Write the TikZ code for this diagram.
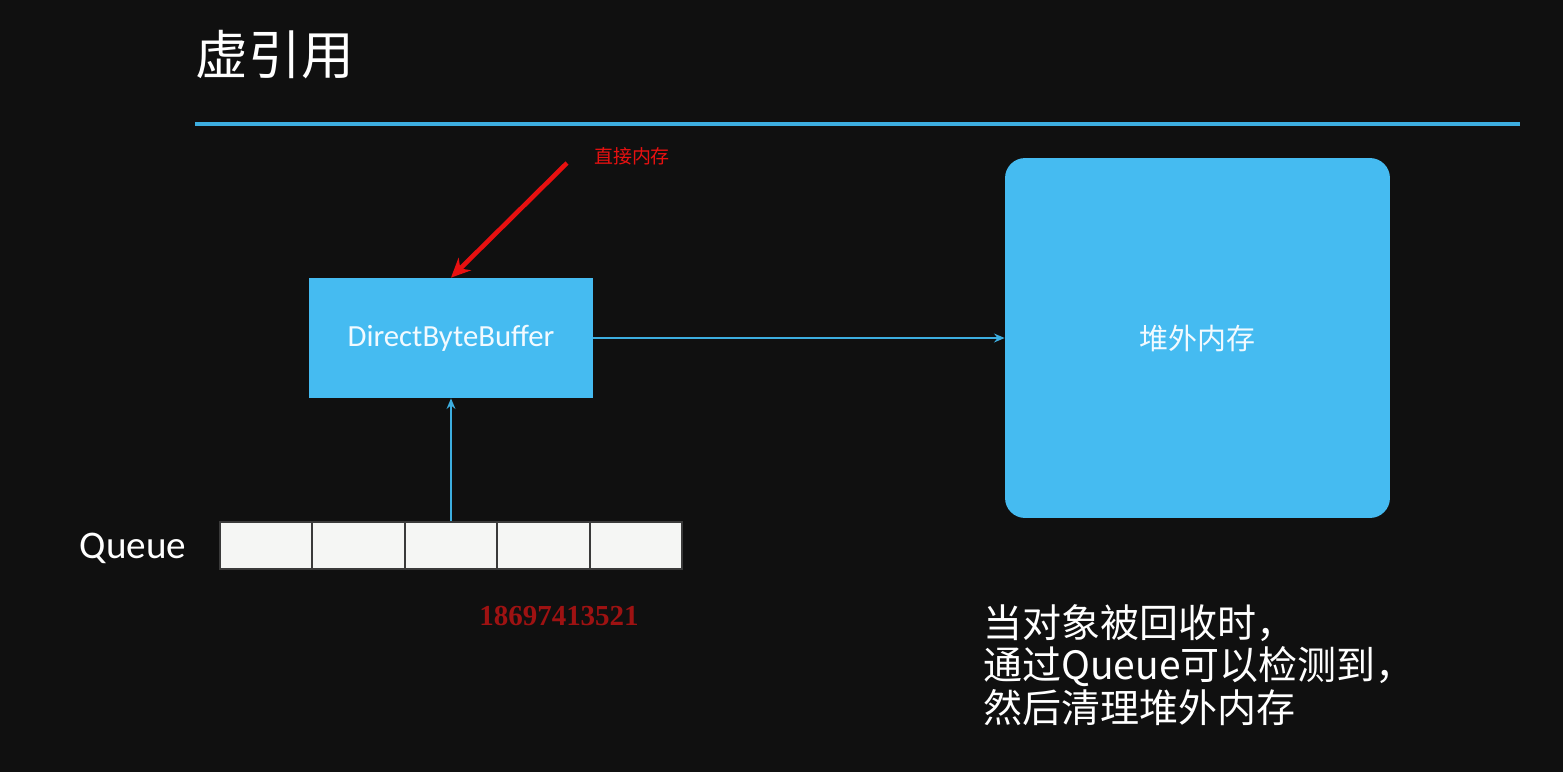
\documentclass[tikz,border=0pt]{standalone}
\usepackage{fontspec}
\usetikzlibrary{arrows.meta}
\newfontfamily\cjk{Noto Sans CJK SC}
\newfontfamily\uifont{Carlito}
\newfontfamily\numfont{Liberation Serif}
\definecolor{board}{HTML}{101010}
\definecolor{boxblue}{HTML}{45BBF1}
\definecolor{lineblue}{HTML}{3DAEE0}
\definecolor{boxtext}{HTML}{F2FAFF}
\definecolor{cellwhite}{HTML}{F5F6F4}
\definecolor{cellline}{HTML}{3A3A3A}
\definecolor{annred}{HTML}{E81010}
\definecolor{markred}{HTML}{9E1212}
\tikzset{
  bluebox/.style={fill=boxblue, text=boxtext, inner sep=0pt},
  qcell/.style={draw=cellline, fill=cellwhite, line width=1.2pt, minimum width=1.848cm, minimum height=0.94cm, inner sep=0pt},
  bluearrow/.style={draw=lineblue, line width=1.4pt, -{Stealth[length=6pt,width=5pt]}},
  redarrow/.style={draw=annred, line width=2.6pt, -{Stealth[length=11pt,width=10pt]}}
}
\begin{document}
\begin{tikzpicture}[x=0.02cm,y=-0.02cm]%phantom reference
\fill [board] (0,0) rectangle (1563,772);
\node [text=white] (title) at (275,55) {\cjk\fontsize{30}{36}\selectfont 虚引用};
\draw [lineblue, line width=2.3pt] (195,124) -- (1520,124);
%\draw [white] (640,385) -- (650,400);
\node [bluebox, minimum width=5.68cm, minimum height=2.4cm] (dbb) at (451,338)
  {\uifont\fontsize{17.5}{20}\selectfont DirectByteBuffer};
\node [bluebox, rounded corners=0.4cm, minimum width=7.7cm, minimum height=7.2cm] (heap) at (1197.5,338)
  {\cjk\fontsize{16.5}{20}\selectfont 堆外内存};
\foreach \i/\cx in {1/266.2,2/358.6,3/451,4/543.4,5/635.8}
  \node [qcell] (q\i) at (\cx,545.5) {};
\node [text=white] (qname) at (133,548) {\uifont\fontsize{22.3}{26}\selectfont Queue};
\node [text=annred] (note) at (632,156) {\cjk\fontsize{10.8}{13}\selectfont 直接内存};
\coordinate (notetail) at (567,163);
\node [text=markred] (mark) at (559,616) {\numfont\bfseries\fontsize{16.5}{20}\selectfont 18697413521};
\node [text=white, anchor=west, align=left, font={\cjk\fontsize{22.2}{24.2}\selectfont}] (explain) at (977,665)
  {当对象被回收时，\\通过Queue可以检测到，\\然后清理堆外内存};
\draw [bluearrow] (dbb.east) -- (heap.west);
\draw [bluearrow] (q3.north) -- (dbb.south);
\draw [redarrow] (notetail) -- (dbb.north);
\end{tikzpicture}
\end{document}
